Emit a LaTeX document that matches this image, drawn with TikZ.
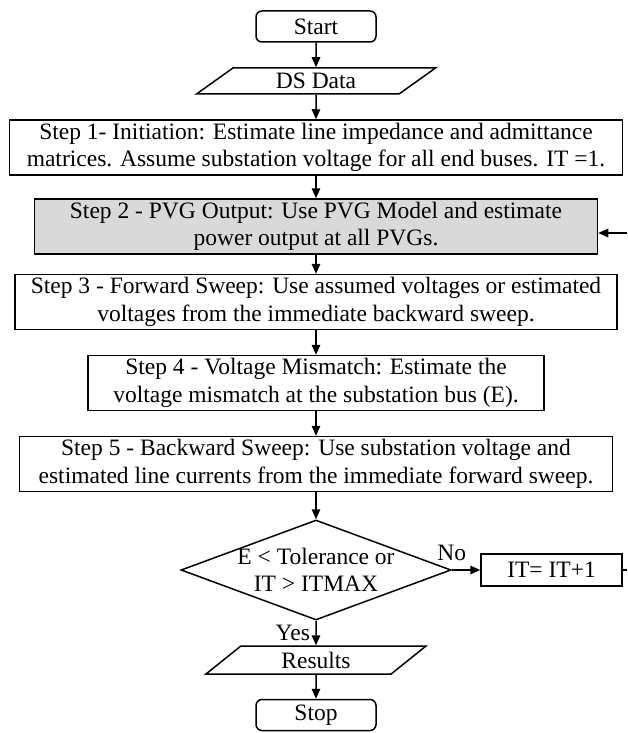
\documentclass[tikz,border=0pt]{standalone}
\usepackage{fontspec}
\setmainfont{Liberation Serif}
\usepackage{tikz}
\usetikzlibrary{positioning, arrows.meta, shapes.geometric, calc}

\tikzset{
    txt/.style={font=\fontsize{23.5}{27.5}\selectfont},
    stepbox/.style={draw, txt, line width=1.5pt, align=center, inner sep=2pt, minimum height=55pt},
    termbox/.style={stepbox, rounded corners=6pt, minimum width=120pt, minimum height=31pt},
    iobox/.style={draw, txt, line width=1.5pt, trapezium, trapezium left angle=#1, trapezium right angle=180-#1, trapezium stretches body, inner sep=1pt},
    decbox/.style={draw, txt, line width=1.5pt, diamond, aspect=2.75, inner sep=-1pt, align=center, minimum width=268pt, minimum height=100pt},
    arr/.style={-{Triangle[length=10pt, width=8.5pt]}, line width=1.5pt},
}

\begin{document}
\begin{tikzpicture}[node distance=81pt, auto]
    \useasboundingbox (0,0) rectangle (627pt,-733pt);

    \node[termbox] (start) at (316pt,-26.5pt) {Start};
    \node[iobox=26, minimum width=239pt, minimum height=26pt] (ds) [below of=start, node distance=54.5pt] {DS Data};
    \node[stepbox, minimum width=613pt] (s1) [below of=ds, node distance=66.5pt]
        {Step 1- Initiation: Estimate line impedance and admittance\\ matrices. Assume substation voltage for all end buses. IT =1.};
    \node[stepbox, minimum width=563pt, fill=gray!30] (s2) [below of=s1, node distance=79pt]
        {Step 2 - PVG Output: Use PVG Model and estimate\\ power output at all PVGs.};
    \node[stepbox, minimum width=602pt] (s3) [below of=s2, node distance=75.5pt]
        {Step 3 - Forward Sweep: Use assumed voltages or estimated\\ voltages from the immediate backward sweep.};
    \node[stepbox, minimum width=456pt] (s4) [below of=s3]
        {Step 4 - Voltage Mismatch: Estimate the\\ voltage mismatch at the substation bus (E).};
    \node[stepbox, minimum width=593pt] (s5) [below of=s4]
        {Step 5 - Backward Sweep: Use substation voltage and\\ estimated line currents from the immediate forward sweep.};
    \node[decbox] (dec) [below of=s5, node distance=106pt] {E < Tolerance or\\ IT > ITMAX};
    \node[stepbox, minimum width=141pt, minimum height=32pt] (it) [right of=dec, node distance=235.5pt] {IT= IT+1};
    \node[iobox=28, minimum width=220pt, minimum height=28pt] (res) [below of=dec, node distance=90pt] {Results};
    \node[termbox] (stop) [below of=res, node distance=55pt] {Stop};

    \coordinate (back) at (627pt,-233pt);
    \coordinate (itout) at (it.east -| back);

    \draw[arr] (start) -- (ds);
    \draw[arr] (ds) -- (s1);
    \draw[arr] (s1) -- (s2);
    \draw[arr] (s2) -- (s3);
    \draw[arr] (s3) -- (s4);
    \draw[arr] (s4) -- (s5);
    \draw[arr] (s5) -- (dec);
    \draw[arr] (dec.east) -- node[txt, above=5pt, pos=0] {No} (it);
    \draw[arr] (dec.south) -- node[txt, left=2pt, pos=0.5] {Yes} (res);
    \draw[arr] (res) -- (stop);
    \draw[line width=1.5pt] (it.east) -- (itout);
    \draw[arr] (back) -- (back -| s2.east);
\end{tikzpicture}
\end{document}
